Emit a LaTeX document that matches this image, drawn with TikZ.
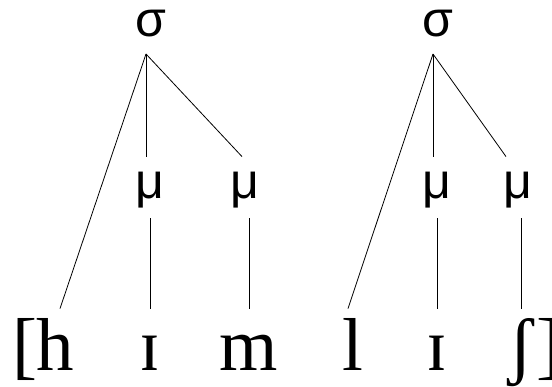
\documentclass[tikz,border=0pt]{standalone}
\usepackage{fontspec}
\setmainfont{Liberation Serif}
\newfontfamily\sansfam{Liberation Sans}
\begin{document}
\begin{tikzpicture}[x=1pt,y=-1pt,line width=0.8pt,
  sig/.style={font=\sansfam\fontsize{50}{50}\selectfont,inner sep=0pt,anchor=base},
  mora/.style={font=\sansfam\fontsize{50}{50}\selectfont,inner sep=0pt,anchor=base,text height=26pt,text depth=10pt},
  seg/.style={font=\fontsize{75}{75}\selectfont,inner sep=0pt,anchor=base,text height=51pt},
  brk/.style={font=\fontsize{75}{75}\selectfont,inner sep=0pt,anchor=base}]
\path[use as bounding box] (0,0) rectangle (552,387);
% syllables
\node[sig] (s1) at (151,37) {σ};
\node[sig] (s2) at (438,37) {σ};
% moras
\node[mora] (m1) at (150,199) {μ};
\node[mora] (m2) at (245,199) {μ};
\node[mora] (m3) at (437,199) {μ};
\node[mora] (m4) at (518,199) {μ};
% segments
\node[brk] (lb) at (25,371) {[};
\node[seg] (h) at (55,371) {h};
\node[seg] (i1) at (150,371) {ɪ};
\node[seg] (m) at (249,371) {m};
\node[seg] (l) at (353,371) {l};
\node[seg] (i2) at (437,371) {ɪ};
\node[seg] (sh) at (521,371) {ʃ};
\node[brk] (rb) at (549,371) {]};
% apex points
\coordinate (a1) at ([xshift=-5pt]s1.base |- 0,54);
\coordinate (a2) at ([xshift=-5pt]s2.base |- 0,54);
% first syllable
\draw (a1) -- ([xshift=5pt,yshift=11pt]h.north);
\draw (a1) -- ([xshift=-4pt,yshift=16pt]m1.north);
\draw (a1) -- ([xshift=-3pt,yshift=16pt]m2.north);
\draw ([yshift=-9pt]m1.south) -- ([yshift=11pt]i1.north);
\draw ([xshift=4pt,yshift=-9pt]m2.south) -- ([yshift=11pt]m.north);
% second syllable
\draw (a2) -- ([xshift=-5pt,yshift=11pt]l.north);
\draw (a2) -- ([xshift=-4pt,yshift=16pt]m3.north);
\draw (a2) -- ([xshift=-12pt,yshift=16pt]m4.north);
\draw ([yshift=-9pt]m3.south) -- ([yshift=11pt]i2.north);
\draw ([xshift=3pt,yshift=-9pt]m4.south) -- ([yshift=11pt]sh.north);
\end{tikzpicture}
\end{document}
